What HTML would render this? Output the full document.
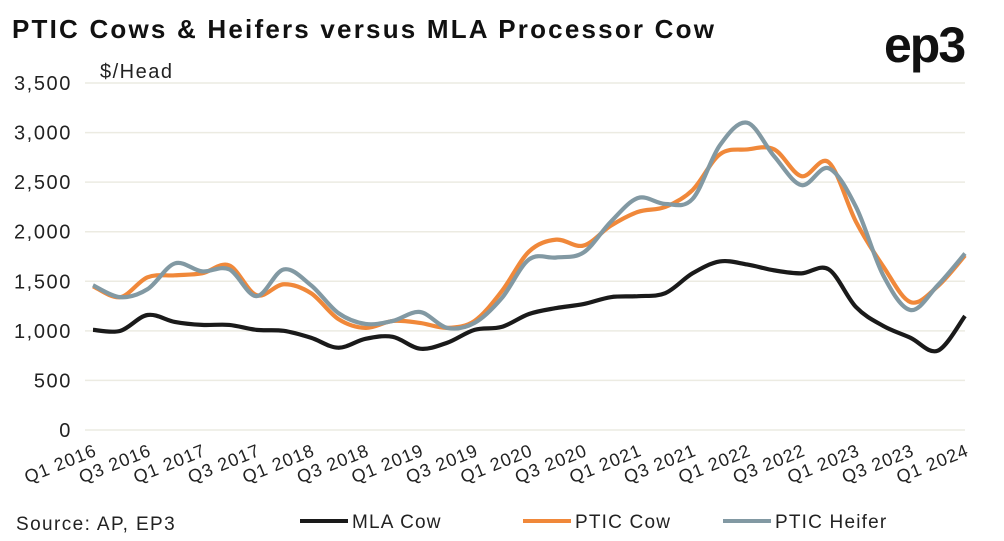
<!DOCTYPE html>
<html><head><meta charset="utf-8"><style>
body{margin:0;background:#fff;font-family:"Liberation Sans",sans-serif;}
svg{display:block}
</style></head><body>
<svg id="chart" width="1004" height="541" viewBox="0 0 1004 541">
<text x="12" y="38" font-size="26" font-weight="bold" fill="#111" letter-spacing="2.2">PTIC Cows &amp; Heifers versus MLA Processor Cow</text>
<text x="884" y="62" font-size="50" font-weight="bold" fill="#111" letter-spacing="-2">ep3</text>
<text x="100" y="78" font-size="20" fill="#222" letter-spacing="1.5">$/Head</text>
<g id="grid"></g><g id="yt"></g><g id="xt"></g><g id="lines"></g>
<text x="16" y="530" font-size="19" fill="#222" letter-spacing="1.4">Source: AP, EP3</text>
<g>
<line x1="300" y1="521" x2="348" y2="521" stroke="#1a1a1a" stroke-width="4"/>
<text x="352" y="528" font-size="19" fill="#222" letter-spacing="1.2">MLA Cow</text>
<line x1="523" y1="521" x2="571" y2="521" stroke="#f0883a" stroke-width="4"/>
<text x="575" y="528" font-size="19" fill="#222" letter-spacing="1.2">PTIC Cow</text>
<line x1="723" y1="521" x2="771" y2="521" stroke="#8299a3" stroke-width="4"/>
<text x="775" y="528" font-size="19" fill="#222" letter-spacing="1.2">PTIC Heifer</text>
</g>
</svg>
<script>
const quarters=["Q1 2016","Q2 2016","Q3 2016","Q4 2016","Q1 2017","Q2 2017","Q3 2017","Q4 2017","Q1 2018","Q2 2018","Q3 2018","Q4 2018","Q1 2019","Q2 2019","Q3 2019","Q4 2019","Q1 2020","Q2 2020","Q3 2020","Q4 2020","Q1 2021","Q2 2021","Q3 2021","Q4 2021","Q1 2022","Q2 2022","Q3 2022","Q4 2022","Q1 2023","Q2 2023","Q3 2023","Q4 2023","Q1 2024"];
const mlaCow=[1010,1000,1160,1090,1060,1060,1010,1000,930,830,920,940,820,880,1010,1040,1170,1230,1270,1340,1350,1380,1580,1700,1670,1610,1580,1620,1240,1050,930,800,1150];
const pticCow=[1450,1340,1540,1560,1580,1660,1360,1470,1380,1120,1030,1100,1080,1030,1100,1400,1800,1920,1860,2060,2200,2250,2420,2780,2830,2830,2560,2700,2100,1650,1290,1450,1760];
const pticHeifer=[1460,1340,1420,1680,1600,1620,1350,1620,1460,1180,1070,1100,1190,1030,1080,1330,1720,1740,1790,2100,2340,2280,2330,2870,3100,2760,2470,2640,2250,1560,1210,1460,1780];
const yTicks=[0,500,1000,1500,2000,2500,3000,3500];
const NS="http://www.w3.org/2000/svg";
const x0=93,x1=965,yb=430,yt=83,ymax=3500;
const X=i=>x0+(x1-x0)*i/(quarters.length-1);
const Y=v=>yb-(yb-yt)*v/ymax;
function mk(t,a,p){const e=document.createElementNS(NS,t);for(const k in a)e.setAttribute(k,a[k]);p.appendChild(e);return e;}
const g=document.getElementById('grid'),yg=document.getElementById('yt'),xg=document.getElementById('xt'),lg=document.getElementById('lines');
yTicks.forEach(v=>{
 const l=mk('line',{x1:85,x2:965,y1:Y(v),y2:Y(v),stroke:'#ecebe2','stroke-width':1.5},g);
 
 
 const t=mk('text',{x:72,y:Y(v)+7,'font-size':20,'text-anchor':'end',fill:'#222','letter-spacing':1.6},yg);
 t.textContent=v.toLocaleString('en-US');
 
 
});
quarters.forEach((q,i)=>{
 if(i%2)return;
 const x=X(i)+5,y=455;
 const t=mk('text',{x:x,y:y,'font-size':18,'text-anchor':'end',fill:'#222','letter-spacing':1,transform:`rotate(-22 ${x} ${y})`},xg);
 t.textContent=q;
 
 
});
function path(vals){
 const p=vals.map((v,i)=>[X(i),Y(v)]);
 let d=`M${p[0][0]},${p[0][1]}`;
 for(let i=0;i<p.length-1;i++){
  const a=p[i-1]||p[i],b=p[i],c=p[i+1],e=p[i+2]||c;
  d+=` C${b[0]+(c[0]-a[0])/6},${b[1]+(c[1]-a[1])/6} ${c[0]-(e[0]-b[0])/6},${c[1]-(e[1]-b[1])/6} ${c[0]},${c[1]}`;
 }
 return d;
}
[[mlaCow,'#1a1a1a','line-mla-cow'],[pticCow,'#f0883a','line-ptic-cow'],[pticHeifer,'#8299a3','line-ptic-heifer']].forEach(([v,c,n])=>{
 const e=mk('path',{d:path(v),fill:'none',stroke:c,'stroke-width':4.2,'stroke-linejoin':'round'},lg);
 
 
});
</script>
</body></html>
